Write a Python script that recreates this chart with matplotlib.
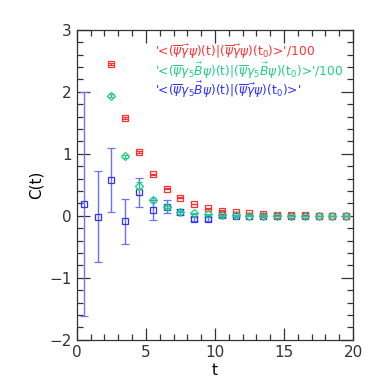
import matplotlib
matplotlib.use("Agg")
import matplotlib.pyplot as plt
from matplotlib.ticker import MultipleLocator

t_all = [0.5, 1.5, 2.5, 3.5, 4.5, 5.5, 6.5, 7.5, 8.5, 9.5, 10.5, 11.5, 12.5, 13.5, 14.5, 15.5, 16.5, 17.5, 18.5, 19.5]

t_red = [2.5, 3.5, 4.5, 5.5, 6.5, 7.5, 8.5, 9.5, 10.5, 11.5, 12.5, 13.5, 14.5, 15.5, 16.5, 17.5, 18.5, 19.5]
red_vals = [2.45, 1.58, 1.03, 0.67, 0.44, 0.29, 0.19, 0.12, 0.085, 0.06, 0.04, 0.03, 0.02, 0.012, 0.008, 0.005, 0.003, 0.002]
red_err = [0.02, 0.02, 0.015, 0.012, 0.01, 0.008, 0.006, 0.005, 0.004, 0.003, 0.003, 0.002, 0.002, 0.002, 0.001, 0.001, 0.001, 0.001]

t_green = [2.5, 3.5, 4.5, 5.5, 6.5, 7.5, 8.5, 9.5, 10.5, 11.5, 12.5, 13.5, 14.5, 15.5, 16.5, 17.5, 18.5, 19.5]
green_vals = [1.94, 0.96, 0.49, 0.26, 0.14, 0.07, 0.04, 0.03, 0.012, 0.008, 0.005, 0.004, 0.003, 0.002, 0.002, 0.001, 0.001, 0.001]
green_err = [0.03, 0.03, 0.05, 0.03, 0.02, 0.015, 0.01, 0.008, 0.006, 0.005, 0.004, 0.003, 0.003, 0.002, 0.002, 0.002, 0.001, 0.001]

blue_vals = [0.19, -0.01, 0.58, -0.09, 0.38, 0.10, 0.15, 0.06, -0.05, -0.05, 0.01, 0.005, 0.003, 0.002, 0.001, 0.001, 0.0, 0.0, 0.0, 0.0]
blue_err = [1.80, 0.74, 0.52, 0.36, 0.23, 0.16, 0.10, 0.05, 0.03, 0.03, 0.02, 0.015, 0.01, 0.008, 0.006, 0.005, 0.004, 0.003, 0.003, 0.002]

labels = [r"'<$(\overline{\psi}\vec{\gamma}\psi)$(t)|$(\overline{\psi}\vec{\gamma}\psi)$(t$_0$)>'/100",
          r"'<$(\overline{\psi}\gamma_5\vec{B}\psi)$(t)|$(\overline{\psi}\gamma_5\vec{B}\psi)$(t$_0$)>'/100",
          r"'<$(\overline{\psi}\gamma_5\vec{B}\psi)$(t)|$(\overline{\psi}\vec{\gamma}\psi)$(t$_0$)>'"]

red = "#ff3030"
green = "#22cc88"
blue = "#3030ff"

fig = plt.figure(figsize=(3.88, 3.88), dpi=100)
ax = fig.add_axes([0.198, 0.124, 0.712, 0.799])

ax.errorbar(t_all, blue_vals, yerr=blue_err, fmt='s', mfc='none', mec=blue, ms=4.5, mew=0.9,
            ecolor='#7070ff', elinewidth=1.0, capsize=3, capthick=1.0, zorder=2)
ax.errorbar(t_red, red_vals, yerr=red_err, fmt='s', mfc='none', mec=red, ms=4.5, mew=0.9,
            ecolor=red, elinewidth=0.8, capsize=2.5, capthick=0.8, zorder=3)
ax.errorbar(t_green, green_vals, yerr=green_err, fmt='D', mfc='none', mec=green, ms=4.0, mew=0.9,
            ecolor=green, elinewidth=0.8, capsize=2.5, capthick=0.8, zorder=4)

ax.set_xlim(0, 20)
ax.set_ylim(-2, 3)
ax.xaxis.set_major_locator(MultipleLocator(5))
ax.xaxis.set_minor_locator(MultipleLocator(1))
ax.yaxis.set_major_locator(MultipleLocator(1))
ax.yaxis.set_minor_locator(MultipleLocator(0.2))
ax.tick_params(which='both', direction='in', top=True, right=True, labelsize=11, colors='#333333')
ax.tick_params(which='major', length=9, width=0.9)
ax.tick_params(which='minor', length=4.5, width=0.9)
for s in ax.spines.values():
    s.set_color('#333333')
    s.set_linewidth(0.9)

ax.set_xlabel('t', fontsize=11, labelpad=2)
ax.set_ylabel('C(t)', fontsize=11, labelpad=4)

for lab, col, y in zip(labels, [red, green, blue], [2.65, 2.33, 2.03]):
    ax.text(5.65, y, lab, color=col, fontsize=8.8, va='center', ha='left')

fig.savefig('out.png', dpi=100)
